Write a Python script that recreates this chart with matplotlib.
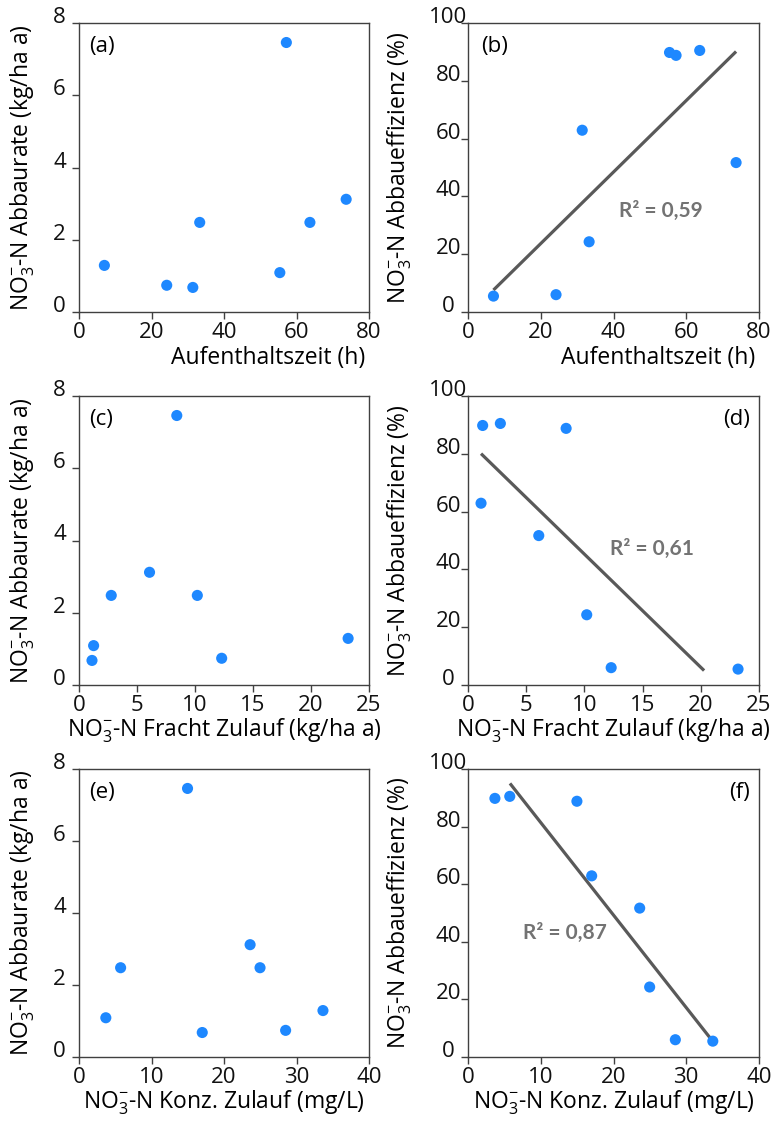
import numpy as np
import matplotlib
matplotlib.use("Agg")
import matplotlib.pyplot as plt

# one value per wetland site (same order in every array)
residence_h = [7.0, 24.2, 31.4, 33.3, 55.4, 57.2, 63.7, 73.7]
load_in = [23.2, 12.3, 1.12, 10.2, 1.26, 8.43, 2.78, 6.08]
conc_in = [33.65, 28.5, 17.0, 24.97, 3.7, 14.97, 5.74, 23.6]
removal_rate = [1.29, 0.74, 0.68, 2.48, 1.09, 7.46, 2.48, 3.12]
removal_eff = [5.5, 6.0, 62.9, 24.3, 89.8, 88.8, 90.5, 51.7]

xlabels = ["Aufenthaltszeit (h)",
           r"NO$_3^{-}$-N Fracht Zulauf (kg/ha a)",
           r"NO$_3^{-}$-N Konz. Zulauf (mg/L)"]
ylabel_rate = r"NO$_3^{-}$-N Abbaurate (kg/ha a)"
ylabel_eff = r"NO$_3^{-}$-N Abbaueffizienz (%)"
panel_tags = [["(a)", "(b)"], ["(c)", "(d)"], ["(e)", "(f)"]]
r2_labels = ["R² = 0,59", "R² = 0,61", "R² = 0,87"]
r2_pos = [(53, 35), (15.8, 47), (13.3, 43)]
xmax = [80, 25, 40]
xstep = [20, 5, 10]

plt.rcParams["font.family"] = ["Open Sans", "DejaVu Sans"]
plt.rcParams["mathtext.fontset"] = "custom"
plt.rcParams["mathtext.rm"] = "Open Sans"
plt.rcParams["mathtext.it"] = "Open Sans:italic"
plt.rcParams["mathtext.bf"] = "Open Sans:bold"

W, H = 779, 1122
fig = plt.figure(figsize=(W / 100, H / 100), dpi=100)

cols = [(79, 290), (468, 291)]
rows = [(23, 289), (396, 289), (769, 288)]

dot = "#1E88FF"
line_col = "#595959"
spine_col = "#404040"

xdata = [residence_h, load_in, conc_in]
xlab_x = [[0.652, 0.655], [0.5, 0.5], [0.5, 0.5]]

for r, (top, h) in enumerate(rows):
    for c, (left, w) in enumerate(cols):
        ax = fig.add_axes([left / W, 1 - (top + h) / H, w / W, h / H])
        x = np.array(xdata[r])
        y = np.array(removal_rate if c == 0 else removal_eff)

        if c == 1:
            slope, icpt = np.polyfit(x, y, 1)
            xs = np.array([x.min(), x.max()])
            ys = np.clip(slope * xs + icpt, 5, 95)
            xs = (ys - icpt) / slope
            ax.plot(xs, ys, color=line_col, lw=2.3, zorder=2, solid_capstyle="butt")
            ax.text(r2_pos[r][0], r2_pos[r][1], r2_labels[r], ha="center", va="center",
                    fontsize=15, fontweight="bold", color="#737373", family=["Lato", "DejaVu Sans"])

        ax.scatter(x, y, s=64, color=dot, edgecolors="none", zorder=3)

        ax.set_xlim(0, xmax[r])
        ax.set_xticks(np.arange(0, xmax[r] + 0.1, xstep[r]))
        if c == 0:
            ax.set_ylim(0, 8)
            ax.set_yticks(np.arange(0, 8.1, 2))
            ax.set_ylabel(ylabel_rate, fontsize=16.5)
            ax.yaxis.set_label_coords(-0.193, 0.5)
        else:
            ax.set_ylim(0, 100)
            ax.set_yticks(np.arange(0, 101, 20))
            ax.set_ylabel(ylabel_eff, fontsize=16.5)
            ax.yaxis.set_label_coords(-0.234, 0.5)
        ax.yaxis.label.set_va("center")

        ax.set_xlabel(xlabels[r], fontsize=16.5)
        ax.xaxis.label.set_va("center")
        ax.xaxis.set_label_coords(xlab_x[r][c], -0.158)

        for s in ax.spines.values():
            s.set_color(spine_col)
            s.set_linewidth(1.0)
        ax.tick_params(direction="out", length=5, width=1.0, color=spine_col,
                       labelsize=16, labelcolor="#111111")
        ax.tick_params(axis="y", pad=9)
        ax.tick_params(axis="x", pad=2)
        for lab in ax.get_yticklabels():
            lab.set_ha("center")
            lab.set_va("baseline")

        tag = panel_tags[r][c]
        if c == 1 and r > 0:
            ax.text(0.97, 0.92, tag, transform=ax.transAxes, ha="right", va="center", fontsize=16)
        else:
            ax.text(0.035 if c == 0 else 0.045, 0.92, tag, transform=ax.transAxes,
                    ha="left", va="center", fontsize=16)

fig.savefig("out.png", dpi=100)
